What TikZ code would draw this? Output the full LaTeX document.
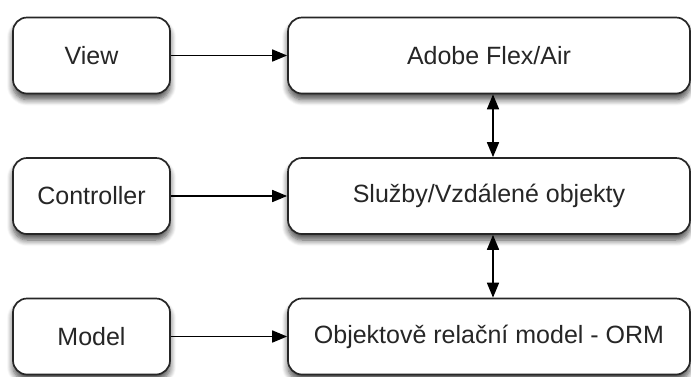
\documentclass[tikz,border=0pt]{standalone}
\usepackage{fontspec}
\setmainfont{Liberation Sans}
\usetikzlibrary{arrows.meta, shadows.blur}
\usetikzlibrary{positioning}

\tikzset{
	box/.style={draw=black!85, line width=1.7pt, fill=white, rounded corners=14pt,
		minimum height=76pt, inner sep=0pt, text=black!85,
		font=\fontsize{25}{30}\selectfont,
		blur shadow={shadow xshift=0pt, shadow yshift=-6pt, shadow blur steps=8, shadow blur radius=6pt, shadow opacity=70}},
	leftbox/.style={box, minimum width=157pt},
	rightbox/.style={box, minimum width=402pt},
	link/.style={line width=1.7pt, -{Triangle[length=15pt,width=12pt]}},
	dlink/.style={line width=1.7pt, {Triangle[length=15pt,width=12pt]}-{Triangle[length=15pt,width=12pt]}}
}

\begin{document}
\begin{tikzpicture}[x=1pt, y=-1pt]
		\useasboundingbox (0,0) rectangle (691,376);
		
		\node[leftbox] (view) at (91.5, 55.5) {View};
		\node[leftbox] (controller) at (91.5, 196) {Controller};
		\node[leftbox] (model) at (91.5, 336.5) {Model};
		
		\node[rightbox] (flex) at (489, 55.5) {Adobe Flex/Air};
		\node[rightbox] (sluzby) at (489, 196) {Služby/Vzdálené objekty};
		\node[rightbox] (orm) at (489, 336.5) {Objektově relační model - ORM};
		
		\draw[link] (view) -- (flex);
		\draw[link] (controller) -- (sluzby);
		\draw[link] (model) -- (orm);
		
		\draw[dlink] ([xshift=4pt]flex.south) -- ([xshift=4pt]sluzby.north);
		\draw[dlink] ([xshift=4pt]sluzby.south) -- ([xshift=4pt]orm.north);
	\end{tikzpicture}
\end{document}
